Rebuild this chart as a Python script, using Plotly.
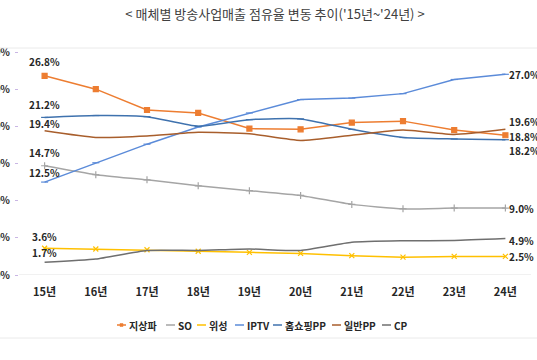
import plotly.graph_objects as go

years = ["15년", "16년", "17년", "18년", "19년", "20년", "21년", "22년", "23년", "24년"]

terrestrial = [26.8, 25.0, 22.2, 21.8, 19.7, 19.6, 20.5, 20.7, 19.5, 18.8]
so = [14.7, 13.5, 12.8, 12.0, 11.35, 10.7, 9.5, 8.9, 9.0, 9.0]
satellite = [3.6, 3.5, 3.4, 3.2, 3.05, 2.9, 2.6, 2.4, 2.5, 2.5]
iptv = [12.5, 15.1, 17.6, 19.9, 21.8, 23.6, 23.8, 24.4, 26.3, 27.0]
homeshopping = [21.2, 21.45, 21.3, 20.0, 20.9, 21.0, 19.6, 18.5, 18.3, 18.2]
general_pp = [19.4, 18.5, 18.7, 19.2, 19.0, 18.1, 18.8, 19.5, 18.9, 19.6]
cp = [1.7, 2.15, 3.3, 3.3, 3.5, 3.3, 4.4, 4.6, 4.65, 4.9]

names = ["지상파", "SO", "위성", "IPTV", "홈쇼핑PP", "일반PP", "CP"]
series = [terrestrial, so, satellite, iptv, homeshopping, general_pp, cp]
colors = ["#ED7D31", "#A5A5A5", "#FFC000", "#5B8BD9", "#3F72AE", "#A85E2C", "#6F6F6F"]
symbols = ["square", "cross-thin", "x-thin", "line-ew", "line-ew", None, None]
shapes_line = ["linear", "spline", "linear", "linear", "spline", "spline", "spline"]

first_labels = [(0, "26.8%", 14), (4, "21.2%", 13), (5, "19.4%", 7), (1, "14.7%", 13),
                (3, "12.5%", 10), (2, "3.6%", 12), (6, "1.7%", 10)]
last_labels = [(3, "27.0%", 0), (5, "19.6%", 8), (0, "18.8%", -1), (4, "18.2%", -11),
               (1, "9.0%", 0), (6, "4.9%", -2), (2, "2.5%", 0)]

W, H = 537, 360
ML, MR, MT, MB = 19, 6, 52, 85
PW, PH = W - ML - MR, H - MT - MB


def px_x(p):
    return (p - ML) / PW


def px_y(p):
    return (H - MB - p) / PH


fig = go.Figure()
for name, vals, col, sym, ls in zip(names, series, colors, symbols, shapes_line):
    marker = dict(size=5, color=col, symbol=sym if sym else "circle",
                  line=dict(color=col, width=1.2))
    fig.add_trace(go.Scatter(
        x=years, y=vals, name=name,
        mode="lines+markers" if sym else "lines",
        line=dict(color=col, width=1.5, shape=ls, smoothing=0.5),
        marker=marker if sym else None,
        showlegend=False,
    ))

lab_font = dict(family="Noto Sans CJK KR", size=10, color="#262626")
for idx, txt, ys in first_labels:
    fig.add_annotation(x=years[0], y=series[idx][0], text="<b>" + txt + "</b>",
                       showarrow=False, xanchor="center", yanchor="middle",
                       yshift=ys, font=lab_font)
for idx, txt, ys in last_labels:
    fig.add_annotation(x=years[-1], y=series[idx][-1], text="<b>" + txt + "</b>",
                       showarrow=False, xanchor="left", yanchor="middle",
                       xshift=2, yshift=ys, font=lab_font)

# custom compact legend
leg_sym_x = [117, 166, 197, 235, 273, 332, 382]
leg_y = px_y(325)
for name, col, sym, sx in zip(names, colors, symbols, leg_sym_x):
    fig.add_shape(type="line", xref="paper", yref="paper",
                  x0=px_x(sx), x1=px_x(sx + 9), y0=leg_y, y1=leg_y,
                  line=dict(color=col, width=1.5))
    if sym == "square":
        fig.add_shape(type="rect", xref="paper", yref="paper",
                      x0=px_x(sx + 3), x1=px_x(sx + 6),
                      y0=px_y(326.5), y1=px_y(323.5),
                      line=dict(color=col, width=0.5), fillcolor=col)
    fig.add_annotation(xref="paper", yref="paper", x=px_x(sx + 10), y=leg_y,
                       text="<b>" + name + "</b>", showarrow=False,
                       xanchor="left", yanchor="middle",
                       font=dict(family="Noto Sans CJK KR", size=10, color="#262626"))

fig.add_shape(type="line", xref="paper", yref="paper", x0=-0.1, x1=1.1,
              y0=px_y(48), y1=px_y(48), line=dict(color="#EAEAEA", width=1))
fig.add_shape(type="line", xref="paper", yref="paper", x0=-0.1, x1=1.1,
              y0=px_y(338), y1=px_y(338), line=dict(color="#EAEAEA", width=1))
fig.add_shape(type="line", xref="paper", yref="y", x0=0, x1=1, y0=0, y1=0,
              line=dict(color="#E3E3E3", width=1), layer="below")

fig.update_layout(
    width=W, height=H,
    margin=dict(l=ML, r=MR, t=MT, b=MB, autoexpand=False),
    paper_bgcolor="white", plot_bgcolor="white",
    title=dict(text="< 매체별 방송사업매출 점유율 변동 추이('15년~'24년) >",
               x=0.5, xref="paper", y=1 - 14 / H, yanchor="middle",
               font=dict(family="Noto Sans CJK KR", size=13, color="#404040")),
    font=dict(family="Noto Sans CJK KR", color="#262626"),
    showlegend=False,
    xaxis=dict(type="category", range=[-0.5, 9.5], showgrid=False, zeroline=False,
               showline=False, ticks="", ticklabelstandoff=9,
               tickfont=dict(family="Noto Sans CJK KR", size=11, color="#262626",
                             weight="bold"),
               automargin=False),
    yaxis=dict(range=[0, 30], dtick=5, tickformat=".1f", ticksuffix="%",
               showgrid=False, zeroline=False, showline=False,
               ticks="outside", ticklen=3, tickcolor="#C9B6E4", tickwidth=1,
               ticklabelstandoff=3,
               tickfont=dict(family="Noto Sans CJK KR", size=10, color="#262626",
                             weight="bold"),
               automargin=False),
)

fig.write_html("out.html", config={"displayModeBar": False},
               post_script="document.body.style.margin='0';")
